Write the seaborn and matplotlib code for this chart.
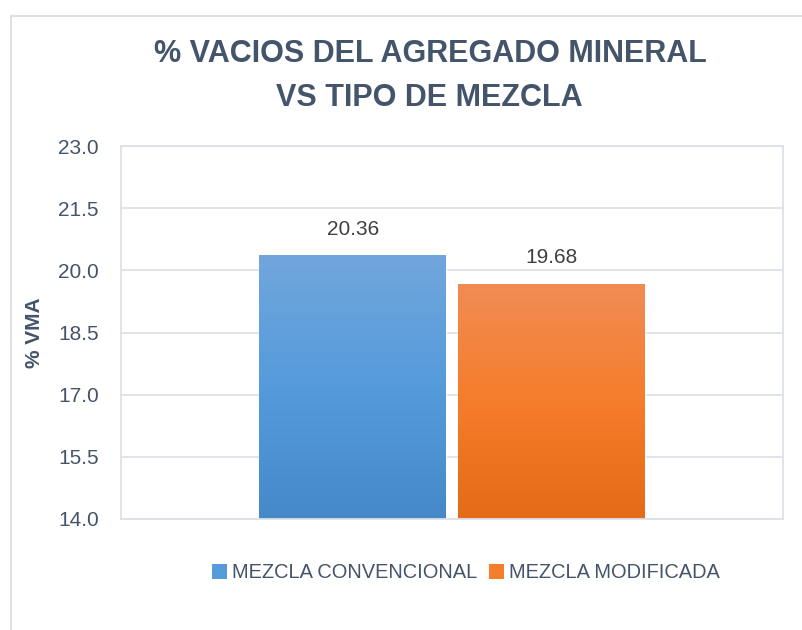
import matplotlib

matplotlib.use("Agg")

import matplotlib.pyplot as plt
import numpy as np
import pandas as pd
import seaborn as sns
from matplotlib.colors import LinearSegmentedColormap
from matplotlib.patches import Patch, Rectangle

MEZCLAS = ["MEZCLA CONVENCIONAL", "MEZCLA MODIFICADA"]
VMA = [20.36, 19.68]
Y_TICKS = [14.0, 15.5, 17.0, 18.5, 20.0, 21.5, 23.0]
TITLE_LINES = ["% VACIOS DEL AGREGADO MINERAL", "VS TIPO DE MEZCLA"]
Y_LABEL = "% VMA"

# top / middle / bottom colour of each bar's gradient
GRADIENTS = {
    "MEZCLA CONVENCIONAL": ["#71A6DB", "#559BDC", "#4589C9"],
    "MEZCLA MODIFICADA": ["#F18C55", "#F57D2B", "#E46B17"],
}
TEXT = "#44546A"
LABEL_TEXT = "#404040"
LINE = "#DDE0E7"

W, H = 803, 630


def fill_gradient(ax, patch, colors, y0):
    cmap = LinearSegmentedColormap.from_list("grad", colors)
    x0 = patch.get_x()
    x1 = x0 + patch.get_width()
    top = patch.get_y() + patch.get_height()
    grad = np.linspace(0, 1, 256).reshape(-1, 1)
    img = ax.imshow(
        grad, cmap=cmap, origin="upper", aspect="auto",
        extent=[x0, x1, y0, top], zorder=patch.get_zorder() + 0.1,
    )
    img.set_clip_path(patch)


def main() -> None:
    sns.set_theme(style="white")
    plt.rcParams["font.family"] = ["Liberation Sans", "DejaVu Sans"]

    df = pd.DataFrame({"grupo": ["VMA"] * len(MEZCLAS), "mezcla": MEZCLAS, "vma": VMA})

    fig = plt.figure(figsize=(W / 100, H / 100), dpi=100)
    fig.patch.set_facecolor("white")

    # outer chart frame (runs off the right and bottom edges)
    fig.patches.append(
        Rectangle((11 / W, -0.1), 1.2, 1 - 16 / H + 0.1, transform=fig.transFigure,
                  fill=False, edgecolor=LINE, lw=1.5)
    )

    ax = fig.add_axes([121 / W, 1 - 519 / H, 662 / W, 373 / H])
    palette = {m: GRADIENTS[m][1] for m in MEZCLAS}
    sns.barplot(
        data=df, x="grupo", y="vma", hue="mezcla", hue_order=MEZCLAS,
        palette=palette, width=0.6, gap=0.06, saturation=1,
        errorbar=None, legend=False, ax=ax,
    )

    ymin, ymax = Y_TICKS[0], Y_TICKS[-1]
    ax.set_xlim(-0.5, 0.5)
    ax.set_ylim(ymin, ymax)

    for container, mezcla in zip(ax.containers, MEZCLAS):
        for patch in container:
            fill_gradient(ax, patch, GRADIENTS[mezcla], ymin)
        ax.bar_label(container, fmt="%.2f", padding=12, fontsize=15, color=LABEL_TEXT)

    ax.set_xlim(-0.5, 0.5)
    ax.set_ylim(ymin, ymax)
    ax.set_yticks(Y_TICKS)
    ax.set_yticklabels([f"{t:.1f}" for t in Y_TICKS])
    ax.set_xticks([])
    ax.set_xlabel("")
    ax.set_ylabel(Y_LABEL, fontsize=15, fontweight="bold", color=TEXT, labelpad=10)
    ax.tick_params(axis="y", length=0, pad=16, labelsize=15, labelcolor=TEXT)

    ax.yaxis.grid(True, color=LINE, lw=1.3)
    ax.set_axisbelow(True)
    for spine in ax.spines.values():
        spine.set_color(LINE)
        spine.set_linewidth(1.3)

    fig.text(430 / W, 1 - 62 / H, TITLE_LINES[0], ha="center", va="baseline",
             fontsize=22, fontweight="bold", color=TEXT)
    fig.text(429 / W, 1 - 106 / H, TITLE_LINES[1], ha="center", va="baseline",
             fontsize=22, fontweight="bold", color=TEXT)

    handles = [Patch(facecolor=GRADIENTS[m][1], edgecolor="none") for m in MEZCLAS]
    fig.legend(
        handles, MEZCLAS, loc="center", bbox_to_anchor=(466 / W, 1 - 573 / H),
        ncol=2, frameon=False, fontsize=14.4, labelcolor=TEXT,
        handlelength=0.75, handleheight=0.75, handletextpad=0.25, columnspacing=0.55,
    )

    fig.savefig("out.png", dpi=100)
    plt.close(fig)


if __name__ == "__main__":
    main()
